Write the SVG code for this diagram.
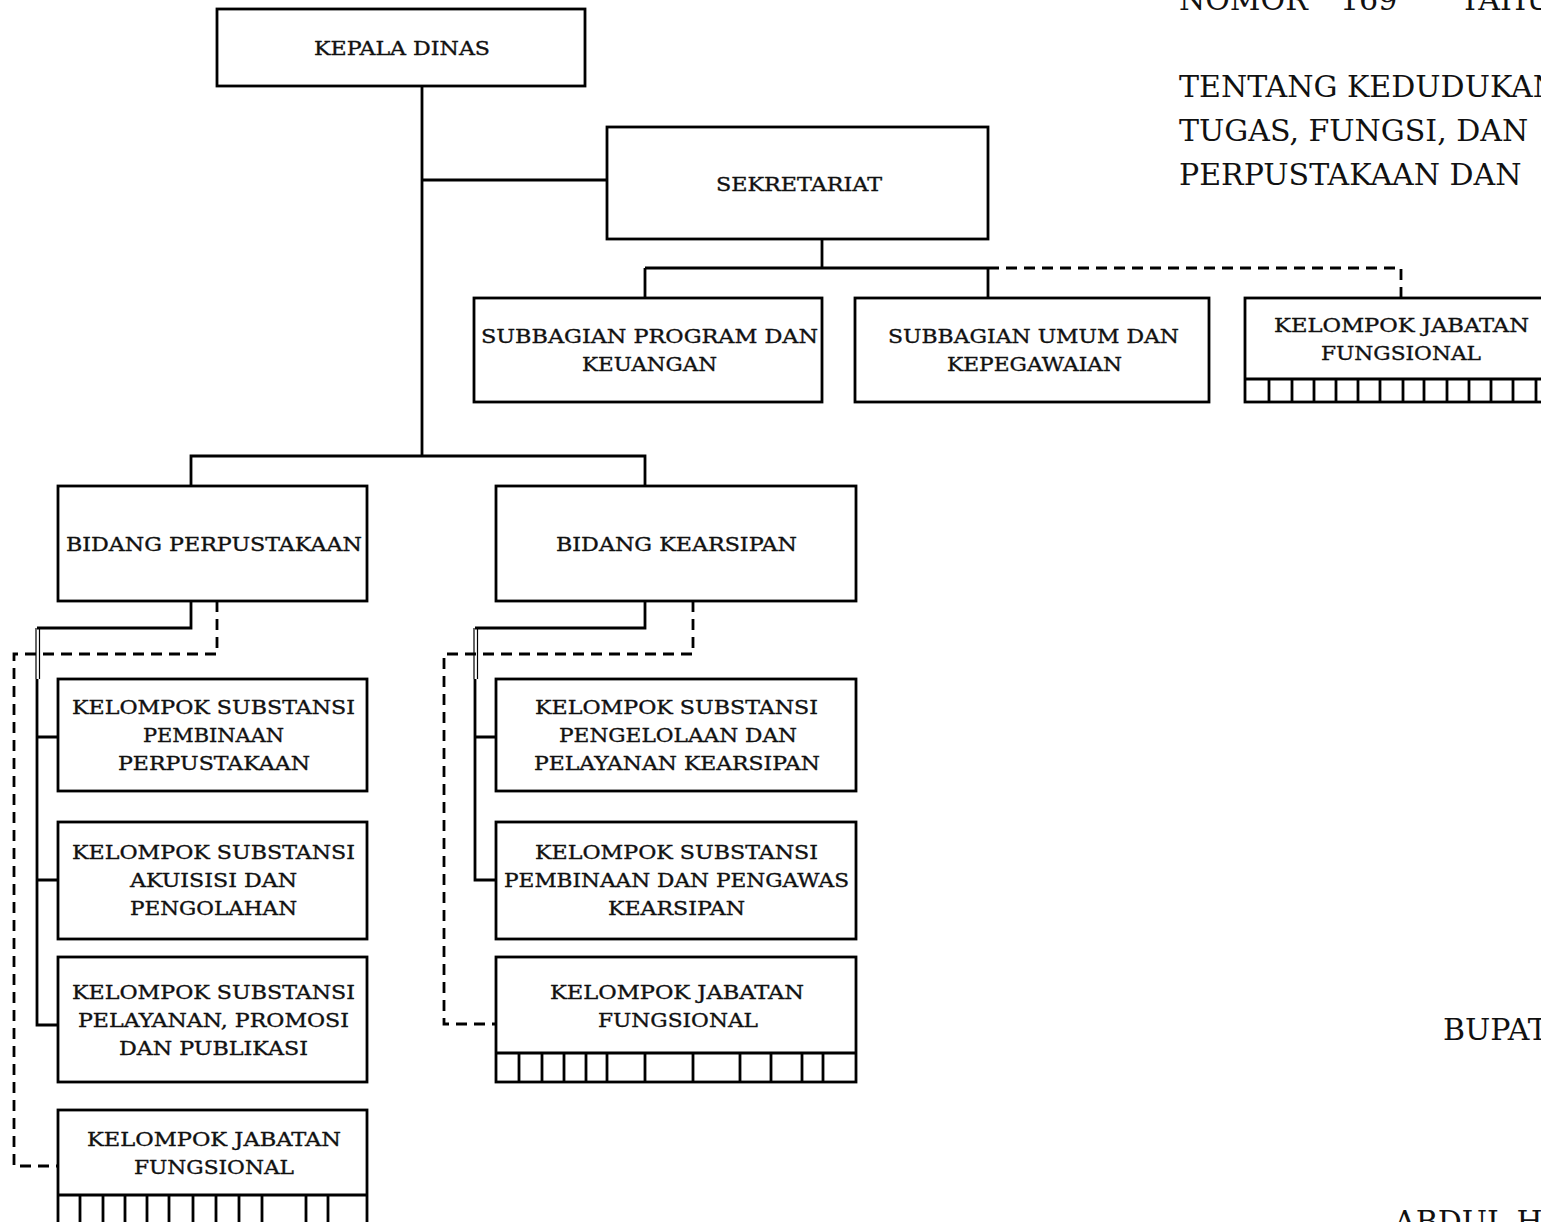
<svg xmlns="http://www.w3.org/2000/svg" width="1541" height="1222" viewBox="0 0 1541 1222">
<style>
.box{fill:#fff;stroke:#000;stroke-width:2.8}
.ln{fill:none;stroke:#000;stroke-width:2.8}
.dsh{fill:none;stroke:#000;stroke-width:2.8;stroke-dasharray:11 7}
.thin{fill:none;stroke:#000;stroke-width:1.2}
.t{font-family:"DejaVu Serif","Liberation Serif",serif;font-size:19px;fill:#111;stroke:#111;stroke-width:0.35;text-anchor:middle}
.big{font-family:"DejaVu Serif","Liberation Serif",serif;font-size:30px;fill:#111}
</style>
<rect width="1541" height="1222" fill="#fff"/>

<g id="connectors">
<path class="ln" d="M422 86V456M422 180H607M822 239V268M645 268H988M645 268V298M988 268V298"/>
<path class="dsh" d="M988 268H1401V298"/>
<path class="ln" d="M191 486V456H645V486"/>
<path class="ln" d="M191 601V628H37M37 679V1025H58M37 737H58M37 880H58"/>
<path class="thin" d="M36 628V679M39.5 628V679"/>
<path class="dsh" d="M217 601V654H14V1166H58"/>
<path class="ln" d="M645 601V628H475M475 679V880H496M475 737H496"/>
<path class="thin" d="M474 628V679M477.5 628V679"/>
<path class="dsh" d="M693 601V654H444V1024H496"/>
</g>

<g id="kepala-dinas">
<rect class="box" x="217" y="9" width="368" height="77"/>
<text class="t" x="402" y="55" textLength="176" lengthAdjust="spacingAndGlyphs">KEPALA DINAS</text>
</g>
<g id="sekretariat">
<rect class="box" x="607" y="127" width="381" height="112"/>
<text class="t" x="799" y="191" textLength="166" lengthAdjust="spacingAndGlyphs">SEKRETARIAT</text>
</g>
<g id="subbagian-program">
<rect class="box" x="474" y="298" width="348" height="104"/>
<text class="t" x="649.5" y="343" textLength="337" lengthAdjust="spacingAndGlyphs">SUBBAGIAN PROGRAM DAN</text>
<text class="t" x="649.5" y="371" textLength="135" lengthAdjust="spacingAndGlyphs">KEUANGAN</text>
</g>
<g id="subbagian-umum">
<rect class="box" x="855" y="298" width="354" height="104"/>
<text class="t" x="1033.5" y="343" textLength="291" lengthAdjust="spacingAndGlyphs">SUBBAGIAN UMUM DAN</text>
<text class="t" x="1034.5" y="371" textLength="175" lengthAdjust="spacingAndGlyphs">KEPEGAWAIAN</text>
</g>
<g id="kjf-sekretariat">
<rect class="box" x="1245" y="298" width="320" height="104"/>
<path class="ln" d="M1245 379H1565M1269 379V402M1292 379V402M1314 379V402M1336 379V402M1358 379V402M1380 379V402M1403 379V402M1424 379V402M1447 379V402M1469 379V402M1491 379V402M1513 379V402M1536 379V402"/>
<text class="t" x="1401.5" y="332" textLength="255" lengthAdjust="spacingAndGlyphs">KELOMPOK JABATAN</text>
<text class="t" x="1401" y="360" textLength="160" lengthAdjust="spacingAndGlyphs">FUNGSIONAL</text>
</g>
<g id="bidang-perpustakaan">
<rect class="box" x="58" y="486" width="309" height="115"/>
<text class="t" x="214" y="551" textLength="296" lengthAdjust="spacingAndGlyphs">BIDANG PERPUSTAKAAN</text>
</g>
<g id="bidang-kearsipan">
<rect class="box" x="496" y="486" width="360" height="115"/>
<text class="t" x="676.5" y="551" textLength="241" lengthAdjust="spacingAndGlyphs">BIDANG KEARSIPAN</text>
</g>
<g id="ks-pembinaan-perpustakaan">
<rect class="box" x="58" y="679" width="309" height="112"/>
<text class="t" x="213.5" y="714" textLength="283" lengthAdjust="spacingAndGlyphs">KELOMPOK SUBSTANSI</text>
<text class="t" x="213.5" y="742" textLength="141" lengthAdjust="spacingAndGlyphs">PEMBINAAN</text>
<text class="t" x="214" y="770" textLength="192" lengthAdjust="spacingAndGlyphs">PERPUSTAKAAN</text>
</g>
<g id="ks-akuisisi">
<rect class="box" x="58" y="822" width="309" height="117"/>
<text class="t" x="213.5" y="859" textLength="283" lengthAdjust="spacingAndGlyphs">KELOMPOK SUBSTANSI</text>
<text class="t" x="213.5" y="887" textLength="167" lengthAdjust="spacingAndGlyphs">AKUISISI DAN</text>
<text class="t" x="213.5" y="915" textLength="167" lengthAdjust="spacingAndGlyphs">PENGOLAHAN</text>
</g>
<g id="ks-pelayanan">
<rect class="box" x="58" y="957" width="309" height="125"/>
<text class="t" x="213.5" y="999" textLength="283" lengthAdjust="spacingAndGlyphs">KELOMPOK SUBSTANSI</text>
<text class="t" x="213.5" y="1027" textLength="271" lengthAdjust="spacingAndGlyphs">PELAYANAN, PROMOSI</text>
<text class="t" x="213.5" y="1055" textLength="189" lengthAdjust="spacingAndGlyphs">DAN PUBLIKASI</text>
</g>
<g id="kjf-perpustakaan">
<rect class="box" x="58" y="1110" width="309" height="130"/>
<path class="ln" d="M58 1195H367M80 1195V1240M103 1195V1240M125 1195V1240M147 1195V1240M169 1195V1240M193 1195V1240M216 1195V1240M239 1195V1240M262 1195V1240M306 1195V1240M328 1195V1240"/>
<text class="t" x="214" y="1146" textLength="254" lengthAdjust="spacingAndGlyphs">KELOMPOK JABATAN</text>
<text class="t" x="214" y="1174" textLength="160" lengthAdjust="spacingAndGlyphs">FUNGSIONAL</text>
</g>
<g id="ks-pengelolaan">
<rect class="box" x="496" y="679" width="360" height="112"/>
<text class="t" x="676.5" y="714" textLength="283" lengthAdjust="spacingAndGlyphs">KELOMPOK SUBSTANSI</text>
<text class="t" x="678" y="742" textLength="238" lengthAdjust="spacingAndGlyphs">PENGELOLAAN DAN</text>
<text class="t" x="677" y="770" textLength="286" lengthAdjust="spacingAndGlyphs">PELAYANAN KEARSIPAN</text>
</g>
<g id="ks-pembinaan-pengawas">
<rect class="box" x="496" y="822" width="360" height="117"/>
<text class="t" x="676.5" y="859" textLength="283" lengthAdjust="spacingAndGlyphs">KELOMPOK SUBSTANSI</text>
<text class="t" x="676.5" y="887" textLength="345" lengthAdjust="spacingAndGlyphs">PEMBINAAN DAN PENGAWAS</text>
<text class="t" x="676.5" y="915" textLength="137" lengthAdjust="spacingAndGlyphs">KEARSIPAN</text>
</g>
<g id="kjf-kearsipan">
<rect class="box" x="496" y="957" width="360" height="125"/>
<path class="ln" d="M496 1053H856M519 1053V1082M542 1053V1082M564 1053V1082M586 1053V1082M607 1053V1082M645 1053V1082M693 1053V1082M740 1053V1082M771 1053V1082M802 1053V1082M823 1053V1082"/>
<text class="t" x="677" y="999" textLength="254" lengthAdjust="spacingAndGlyphs">KELOMPOK JABATAN</text>
<text class="t" x="678" y="1027" textLength="160" lengthAdjust="spacingAndGlyphs">FUNGSIONAL</text>
</g>

<g id="header-text">
<text class="big" x="1179" y="10">NOMOR</text>
<text class="big" x="1340" y="10">169</text>
<text class="big" x="1460" y="10">TAHUN</text>
<text class="big" x="1179" y="97">TENTANG KEDUDUKAN</text>
<text class="big" x="1179" y="141">TUGAS, FUNGSI, DAN</text>
<text class="big" x="1179" y="185">PERPUSTAKAAN DAN</text>
<text class="big" x="1443" y="1040">BUPATI</text>
<text class="big" x="1394" y="1232">ABDUL H</text>
</g>
</svg>
